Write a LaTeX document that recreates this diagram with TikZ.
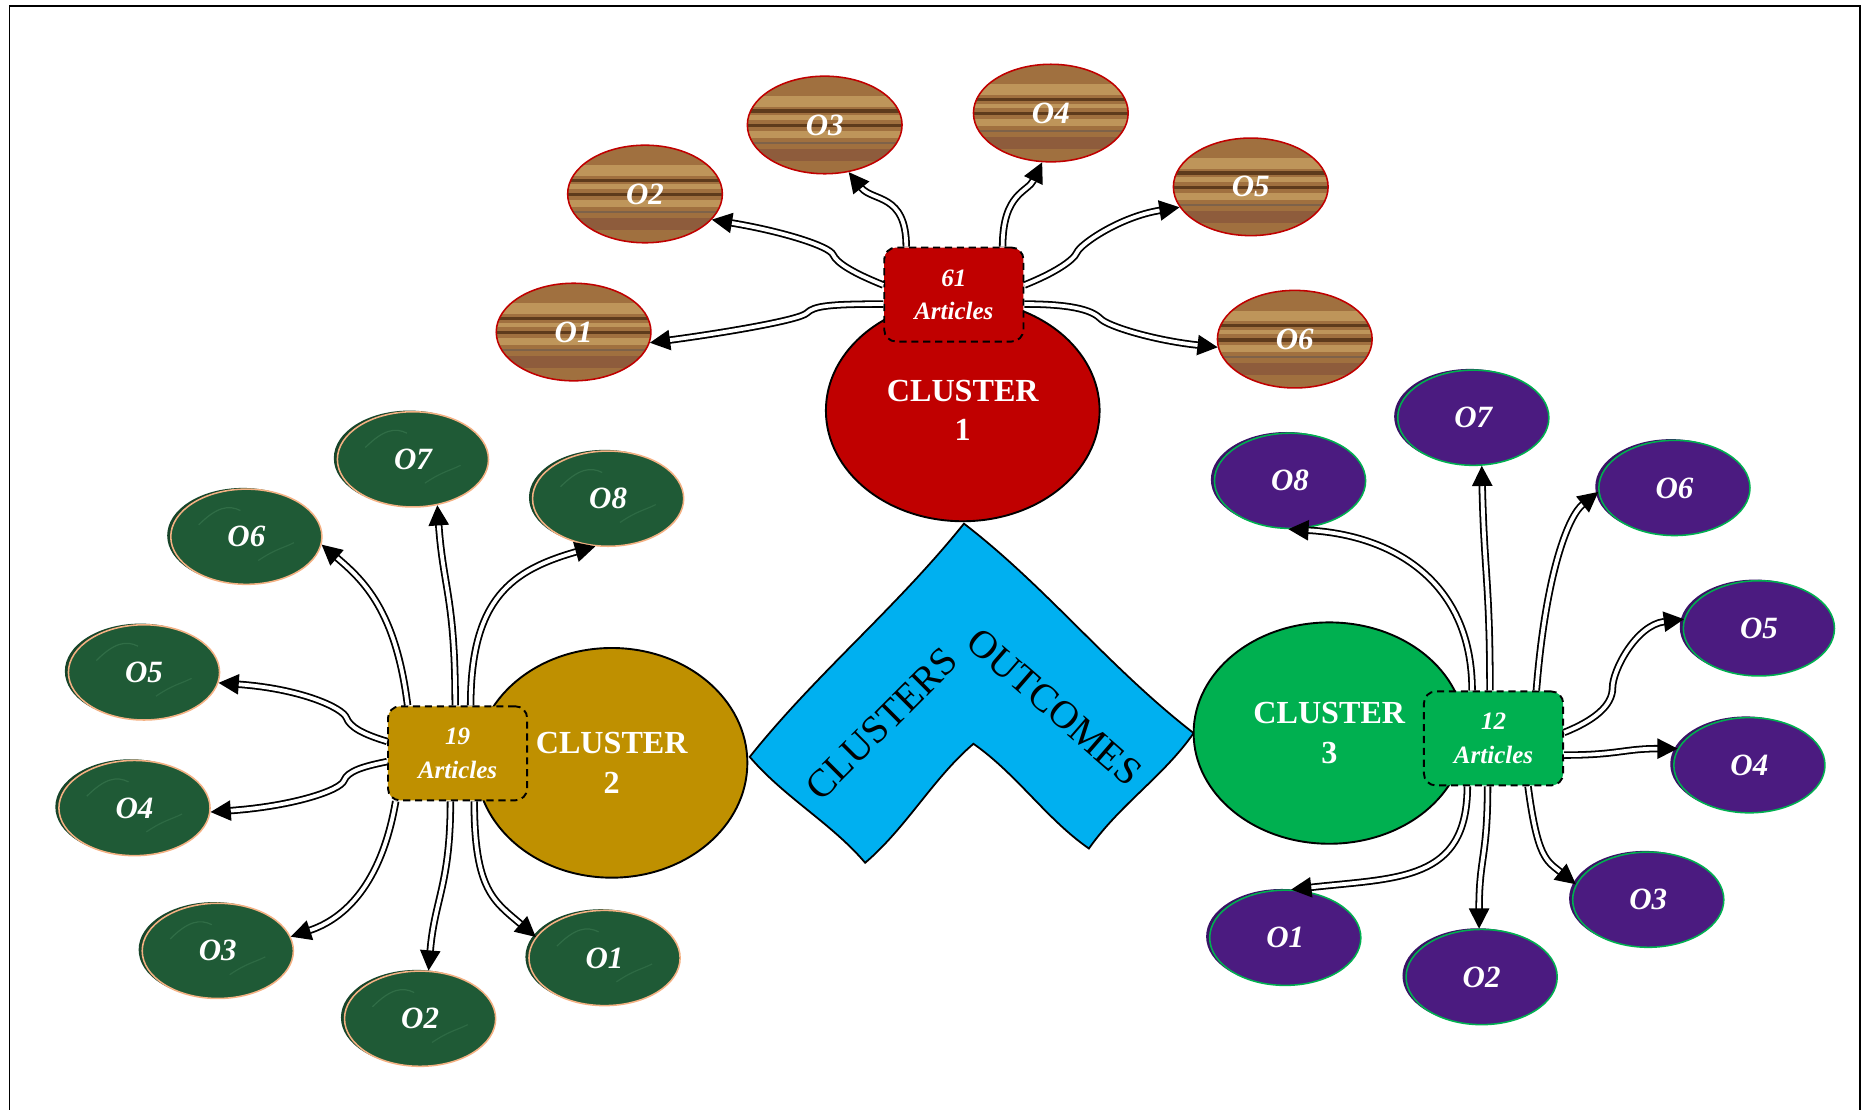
\documentclass[tikz,border=0pt]{standalone}
\usepackage{fontspec}
\setmainfont{Liberation Serif}
\usetikzlibrary{shapes.geometric,arrows.meta,calc,shadows}
\definecolor{cred}{HTML}{C00000}
\definecolor{cgold}{HTML}{BF9000}
\definecolor{cgreen}{HTML}{00B050}
\definecolor{cblue}{HTML}{00B0F0}
\definecolor{woodbase}{HTML}{A0703F}
\definecolor{wooddark}{HTML}{5E3B1C}
\definecolor{woodlight}{HTML}{BE955A}
\definecolor{woodred}{HTML}{8E5C3C}
\definecolor{marble}{HTML}{1F5A36}
\definecolor{marbledark}{HTML}{17452A}
\definecolor{marblelight}{HTML}{3C7A52}
\definecolor{peach}{HTML}{F4B183}
\definecolor{velvet}{HTML}{4B1B80}
\definecolor{velvetdark}{HTML}{3A1266}
\tikzset{
  clusterell/.style={ellipse, draw=black, line width=1.6pt, minimum width=230pt,
    minimum height=186pt, text=white, align=center, inner sep=0pt,
    font=\fontsize{27}{33}\selectfont\bfseries},
  artbox/.style={draw=black, dash pattern=on 6pt off 4pt, line width=1.6pt,
    rounded corners=10pt, minimum width=117pt, minimum height=79pt,
    text=white, align=center, font=\fontsize{21}{28}\selectfont\bfseries\itshape},
  woodoval/.style={ellipse, draw=cred, line width=1.3pt, minimum width=130pt,
    minimum height=82pt, fill=woodbase, text=white,
    font=\fontsize{26}{30}\selectfont\bfseries\itshape,
    path picture={
      \fill[woodlight] ([yshift=24pt]path picture bounding box.west) rectangle ([yshift=15pt]path picture bounding box.east);
      \fill[wooddark] ([yshift=13pt]path picture bounding box.west) rectangle ([yshift=10pt]path picture bounding box.east);
      \fill[woodlight] ([yshift=8pt]path picture bounding box.west) rectangle ([yshift=4pt]path picture bounding box.east);
      \fill[wooddark] ([yshift=1pt]path picture bounding box.west) rectangle ([yshift=-2pt]path picture bounding box.east);
      \fill[woodlight] ([yshift=-5pt]path picture bounding box.west) rectangle ([yshift=-11pt]path picture bounding box.east);
      \fill[wooddark!80] ([yshift=-14pt]path picture bounding box.west) rectangle ([yshift=-16pt]path picture bounding box.east);
      \fill[woodred] ([yshift=-20pt]path picture bounding box.west) rectangle ([yshift=-30pt]path picture bounding box.east);
    }},
  marbleoval/.style={ellipse, draw=peach, line width=1.3pt, minimum width=127pt,
    minimum height=80pt, fill=marble, text=white,
    font=\fontsize{26}{30}\selectfont\bfseries\itshape,
    general shadow={fill=marbledark, shadow xshift=-3pt, shadow yshift=1pt},
    path picture={
      \draw[marblelight, line width=1pt, opacity=0.6] ([xshift=-40pt,yshift=10pt]path picture bounding box.center) .. controls +(15pt,15pt) and +(-10pt,5pt) .. ([xshift=-5pt,yshift=22pt]path picture bounding box.center);
      \draw[marblelight, line width=1pt, opacity=0.5] ([xshift=10pt,yshift=-20pt]path picture bounding box.center) .. controls +(15pt,10pt) and +(-10pt,-5pt) .. ([xshift=40pt,yshift=-5pt]path picture bounding box.center);
    }},
  velvetoval/.style={ellipse, draw=cgreen, line width=1.3pt, minimum width=127pt,
    minimum height=80pt, fill=velvet, text=white,
    font=\fontsize{26}{30}\selectfont\bfseries\itshape,
    general shadow={fill=velvetdark, shadow xshift=-3pt, shadow yshift=1pt}},
  conn/.style={draw=black, double=white, line width=1.5pt, double distance=3.2pt,
    -{Triangle[length=17pt,width=17pt]}},
  bandtext/.style={font=\fontsize{33}{36}\selectfont, text=black}
}
\begin{document}
\begin{tikzpicture}[x=1pt,y=-1pt]
\useasboundingbox (0,0) rectangle (1568,932);
\fill[white] (0,0) rectangle (1568,932);
\draw[line width=1.5pt] (8,940) -- (8,5) -- (1563,5) -- (1563,940);

% central chevron
\filldraw[fill=cblue, draw=black, line width=1.5pt]
  (810,440) .. controls (879,493) and (932,561) .. (1003,616)
  .. controls (978,652) and (941,676) .. (915,713)
  .. controls (879,688) and (855,651) .. (818,625)
  .. controls (784,654) and (762,695) .. (727,725)
  .. controls (699,692) and (659,670) .. (630,636)
  .. controls (685,567) and (753,511) .. cycle;
\node[bandtext, rotate=45] (tclus) at (741,608) {CLUSTERS};
\node[bandtext, rotate=-41] (tout) at (886,594) {OUTCOMES};

% clusters
\node[clusterell, fill=cred] (c1) at (809,345) {CLUSTER\\1};
\node[clusterell, fill=cgold, minimum width=228pt, minimum height=193pt] (c2) at (514,641) {CLUSTER\\2};
\node[clusterell, fill=cgreen, minimum width=228pt] (c3) at (1117,616) {CLUSTER\\3};

% article boxes
\node[artbox, fill=cred] (b1) at (801.5,247.5) {61\\Articles};
\node[artbox, fill=cgold] (b2) at (384.5,633) {19\\Articles};
\node[artbox, fill=cgreen] (b3) at (1255,620.5) {12\\Articles};

% cluster 1 outcomes
\node[woodoval] (c1o1) at (482,279) {O1};
\node[woodoval] (c1o2) at (542,163) {O2};
\node[woodoval] (c1o3) at (693,105) {O3};
\node[woodoval] (c1o4) at (883,95) {O4};
\node[woodoval] (c1o5) at (1051,157) {O5};
\node[woodoval] (c1o6) at (1088,285) {O6};

% cluster 2 outcomes
\node[marbleoval] (c2o1) at (508,805) {O1};
\node[marbleoval] (c2o2) at (353,856) {O2};
\node[marbleoval] (c2o3) at (183,799) {O3};
\node[marbleoval] (c2o4) at (113,679) {O4};
\node[marbleoval] (c2o5) at (121,565) {O5};
\node[marbleoval] (c2o6) at (207,451) {O6};
\node[marbleoval] (c2o7) at (347,386) {O7};
\node[marbleoval] (c2o8) at (511,419) {O8};

% cluster 3 outcomes
\node[velvetoval] (c3o1) at (1080,788) {O1};
\node[velvetoval] (c3o2) at (1245,821) {O2};
\node[velvetoval] (c3o3) at (1385,756) {O3};
\node[velvetoval] (c3o4) at (1470,643) {O4};
\node[velvetoval] (c3o5) at (1478,528) {O5};
\node[velvetoval] (c3o6) at (1407,410) {O6};
\node[velvetoval] (c3o7) at (1238,351) {O7};
\node[velvetoval] (c3o8) at (1084,404) {O8};

% connectors cluster 1
\draw[conn] ($(b1.west)+(0,8)$) .. controls +(-45,0) and +(6,-6) .. (678,263) .. controls +(-6,6) and +(60,-8) .. (c1o1.-8);
\draw[conn] ($(b1.west)+(0,-8)$) .. controls +(-25,-10) and +(3,7) .. (700,214) .. controls +(-3,-7) and +(60,10) .. (c1o2.-21);
\draw[conn] ($(b1.north)+(-40,0)$) .. controls +(0,-45) and +(20,25) .. (c1o3.-63);
\draw[conn] ($(b1.north)+(41,0)$) .. controls +(0,-45) and +(-12,25) .. (c1o4.-100);
\draw[conn] ($(b1.east)+(0,-8)$) .. controls +(25,-10) and +(-3,7) .. (905,212) .. controls +(3,-7) and +(-50,8) .. (c1o5.196);
\draw[conn] ($(b1.east)+(0,8)$) .. controls +(45,0) and +(-6,-6) .. (925,268) .. controls +(6,6) and +(-55,-6) .. (c1o6.186);

% connectors cluster 2
\draw[conn] ($(b2.west)+(0,-10)$) .. controls +(-20,-6) and +(3,8) .. (291,603) .. controls +(-3,-8) and +(70,5) .. (c2o5.-8);
\draw[conn] ($(b2.west)+(0,7)$) .. controls +(-20,4) and +(3,-8) .. (289,656) .. controls +(-3,8) and +(70,-5) .. (c2o4.-3);
\draw[conn] ($(b2.north)+(-42,0)$) .. controls +(-10,-80) and +(35,30) .. (c2o6.-6);
\draw[conn] ($(b2.north)+(-2,0)$) .. controls +(0,-90) and +(5,70) .. (c2o7.-62);
\draw[conn] ($(b2.north)+(11,0)$) .. controls +(0,-90) and +(-70,20) .. (c2o8.-105);
\draw[conn] ($(b2.south)+(-52,0)$) .. controls +(-12,70) and +(45,-15) .. (c2o3.11);
\draw[conn] ($(b2.south)+(-6,0)$) .. controls +(0,70) and +(5,-60) .. (c2o2.80);
\draw[conn] ($(b2.south)+(14,0)$) .. controls +(0,75) and +(-35,-30) .. (c2o1.163);

% connectors cluster 3
\draw[conn] ($(b3.north)+(-18,0)$) .. controls +(0,-90) and +(90,5) .. (c3o8.-92);
\draw[conn] ($(b3.north)+(-3,0)$) .. controls +(0,-90) and +(2,90) .. (c3o7.-80);
\draw[conn] ($(b3.north)+(36,0)$) .. controls +(8,-100) and +(-25,20) .. (c3o6.183);
\draw[conn] ($(b3.east)+(0,-5)$) .. controls +(25,-10) and +(0,15) .. (1355,578) .. controls +(0,-15) and +(-40,5) .. (c3o5.173);
\draw[conn] ($(b3.east)+(0,14)$) .. controls +(45,0) and +(-45,0) .. (c3o4.167);
\draw[conn] ($(b3.south)+(29,0)$) .. controls +(8,60) and +(-25,-20) .. (c3o3.168);
\draw[conn] ($(b3.south)+(-5,0)$) .. controls +(0,60) and +(0,-60) .. (c3o2.93);
\draw[conn] ($(b3.south)+(-22,0)$) .. controls +(0,80) and +(90,-10) .. (c3o1.83);
\end{tikzpicture}
\end{document}
